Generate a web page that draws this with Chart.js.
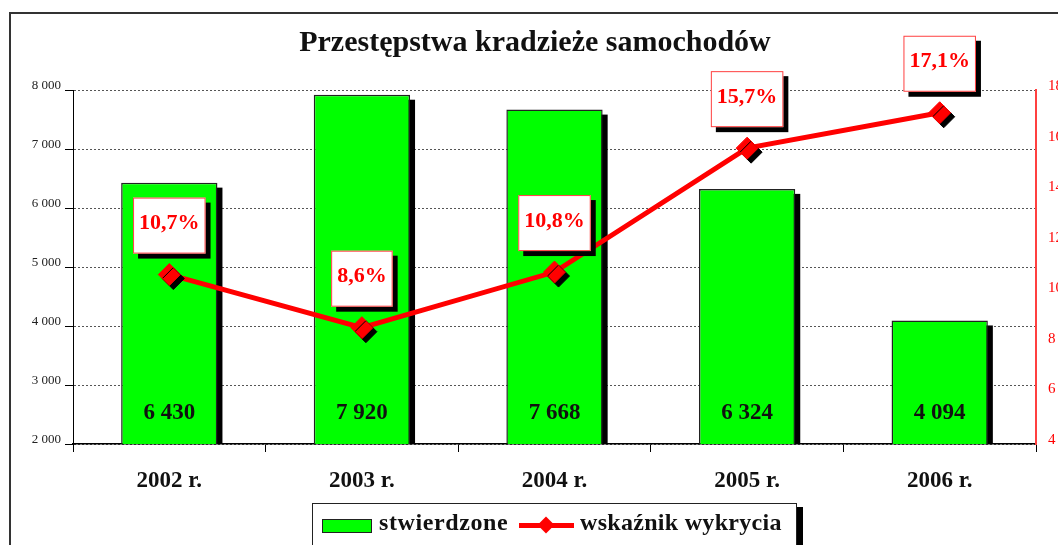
<!DOCTYPE html>
<html>
<head>
<meta charset="utf-8">
<script src="https://cdn.jsdelivr.net/npm/chart.js@4/dist/chart.umd.min.js"></script>
<style>
  body { margin: 0; background: #fff; }
  #wrap { position: relative; width: 1058px; height: 545px; overflow: hidden; background: #fff; }
  #frame { position: absolute; left: 9px; top: 12px; width: 1100px; height: 600px; border: 2px solid #333; }
  #c { position: absolute; left: 0; top: 0; }
  #title { position: absolute; left: 0; width: 1070px; top: 24px; text-align: center;
           font: bold 30px "Liberation Serif", serif; color: #111; }
  #legend { position: absolute; left: 312px; top: 503px; width: 483px; height: 60px;
            border: 1px solid #222; background: #fff; box-shadow: 6px 4px 0 #000;
            font: bold 24px "Liberation Serif", serif; color: #111; }
  #legend .sw { position: absolute; left: 9px; top: 15px; width: 48px; height: 12px;
                background: #00ff00; border: 1px solid #222; }
  #legend .t1 { position: absolute; left: 66px; top: 5px; letter-spacing: 0.6px; }
  #legend .ln { position: absolute; left: 206px; top: 19px; width: 55px; height: 5px; background: #ff0000; }
  #legend .dm { position: absolute; left: 227px; top: 15px; width: 12px; height: 12px; background: #ff0000;
                transform: rotate(45deg); }
  #legend .t2 { position: absolute; left: 267px; top: 5px; letter-spacing: 0.3px; }
</style>
</head>
<body>
<div id="wrap">
  <div id="frame"></div>
  <canvas id="c" width="1058" height="545"></canvas>
  <div id="title">Przestępstwa kradzieże samochodów</div>
  <div id="legend">
    <span class="sw"></span><span class="t1">stwierdzone</span>
    <span class="ln"></span><span class="dm"></span><span class="t2">wskaźnik wykrycia</span>
  </div>
</div>
<script>
// dane
const lata = ['2002 r.', '2003 r.', '2004 r.', '2005 r.', '2006 r.'];
const stwierdzone = [6430, 7920, 7668, 6324, 4094];
const wskaznik = [10.7, 8.6, 10.8, 15.7, 17.1];

const SERIF = '"Liberation Serif", serif';

function tysiace(v) {
  return String(v).replace(/\B(?=(\d{3})+(?!\d))/g, ' ');
}
function procent(v) {
  return v.toFixed(1).replace('.', ',') + '%';
}

// cienie: słupki rysowane ręcznie (obramowanie słupka ucina cień), znaczniki przez shadow canvasu
const cienie = {
  id: 'cienie',
  beforeDatasetDraw(chart, args) {
    const ds = chart.data.datasets[args.index];
    if (!ds.cien) return;
    const ctx = chart.ctx;
    const a = chart.chartArea;
    if (ds.type === 'line') {
      ctx.save();
      ctx.shadowColor = '#000';
      ctx.shadowOffsetX = ds.cien;
      ctx.shadowOffsetY = ds.cien;
      ctx.shadowBlur = 0;
      return;
    }
    ctx.save();
    ctx.beginPath();
    ctx.rect(a.left, a.top, a.right - a.left, a.bottom - a.top);
    ctx.clip();
    ctx.fillStyle = '#000';
    args.meta.data.forEach((el) => {
      const p = el.getProps(['x', 'y', 'base', 'width'], true);
      ctx.fillRect(p.x - p.width / 2 + ds.cien, p.y + ds.cien, p.width, p.base - p.y);
    });
    ctx.restore();
  },
  afterDatasetDraw(chart, args) {
    const ds = chart.data.datasets[args.index];
    if (ds.cien && ds.type === 'line') chart.ctx.restore();
  }
};

// etykiety: wartości w słupkach i ramki z procentami
const etykiety = {
  id: 'etykiety',
  afterDatasetsDraw(chart) {
    const ctx = chart.ctx;
    const dol = chart.chartArea.bottom;
    ctx.save();
    ctx.textAlign = 'center';
    ctx.textBaseline = 'middle';
    ctx.font = 'bold 23px ' + SERIF;
    ctx.fillStyle = '#111';
    chart.getDatasetMeta(0).data.forEach((el, i) => {
      ctx.fillText(tysiace(stwierdzone[i]), el.x, dol - 31);
    });
    ctx.font = 'bold 22px ' + SERIF;
    chart.getDatasetMeta(2).data.forEach((pt, i) => {
      const txt = procent(wskaznik[i]);
      const w = ctx.measureText(txt).width + 12;
      const h = 56;
      const x = pt.x - w / 2, y = pt.y - 49 - h / 2;
      ctx.fillStyle = '#000';
      ctx.fillRect(x + 5, y + 5, w, h);
      ctx.fillStyle = '#fff';
      ctx.fillRect(x, y, w, h);
      ctx.strokeStyle = '#ff4040';
      ctx.lineWidth = 1;
      ctx.strokeRect(x + 0.5, y + 0.5, w - 1, h - 1);
      ctx.fillStyle = '#ff0000';
      ctx.fillText(txt, pt.x, pt.y - 51);
    });
    ctx.restore();
  }
};

const ctx = document.getElementById('c').getContext('2d');
new Chart(ctx, {
  type: 'bar',
  data: {
    labels: lata,
    datasets: [{
      type: 'bar',
      label: 'stwierdzone',
      data: stwierdzone,
      yAxisID: 'y',
      backgroundColor: '#00ff00',
      borderColor: '#222',
      borderWidth: 1.5,
      barPercentage: 0.5,
      categoryPercentage: 1,
      cien: 5,
      order: 3
    }, {
      type: 'line',
      label: 'wskaźnik wykrycia',
      data: wskaznik,
      yAxisID: 'y1',
      borderColor: '#ff0000',
      borderWidth: 5,
      pointRadius: 0,
      fill: false,
      order: 2
    }, {
      type: 'line',
      label: 'znaczniki',
      data: wskaznik,
      yAxisID: 'y1',
      showLine: false,
      pointStyle: 'rectRot',
      pointRadius: 11,
      pointBackgroundColor: '#ff0000',
      pointBorderColor: '#ff0000',
      pointBorderWidth: 1,
      cien: 4,
      order: 1
    }]
  },
  options: {
    responsive: false,
    animation: false,
    devicePixelRatio: 1,
    layout: { padding: { top: 90, left: 5, right: 0, bottom: 0 } },
    plugins: {
      legend: { display: false },
      tooltip: { enabled: false },
      title: { display: false }
    },
    scales: {
      x: {
        grid: { drawOnChartArea: false, tickLength: 8, color: '#000', offset: true },
        border: { color: '#000', width: 1.5 },
        ticks: { font: { family: SERIF, size: 23, weight: 'bold' }, color: '#111', padding: 15 },
        afterFit(s) { s.height = 101; }
      },
      y: {
        position: 'left',
        min: 2000,
        max: 8000,
        grid: { color: '#555', tickLength: 8, tickColor: '#000' },
        border: { color: '#000', width: 1, dash: [2, 2] },
        ticks: {
          stepSize: 1000,
          font: { family: SERIF, size: 13 },
          color: '#222',
          padding: 4,
          labelOffset: -4,
          callback: (v) => tysiace(v)
        },
        afterFit(s) { s.width = 68; }
      },
      y1: {
        position: 'right',
        min: 4,
        max: 18,
        grid: { drawOnChartArea: false, drawTicks: false },
        border: { color: '#ff4040', width: 2 },
        ticks: {
          stepSize: 2,
          font: { family: SERIF, size: 15 },
          color: '#ff0000',
          padding: 12,
          labelOffset: -4
        },
        afterFit(s) { s.width = 22; }
      }
    }
  },
  plugins: [cienie, etykiety]
});
</script>
</body>
</html>
